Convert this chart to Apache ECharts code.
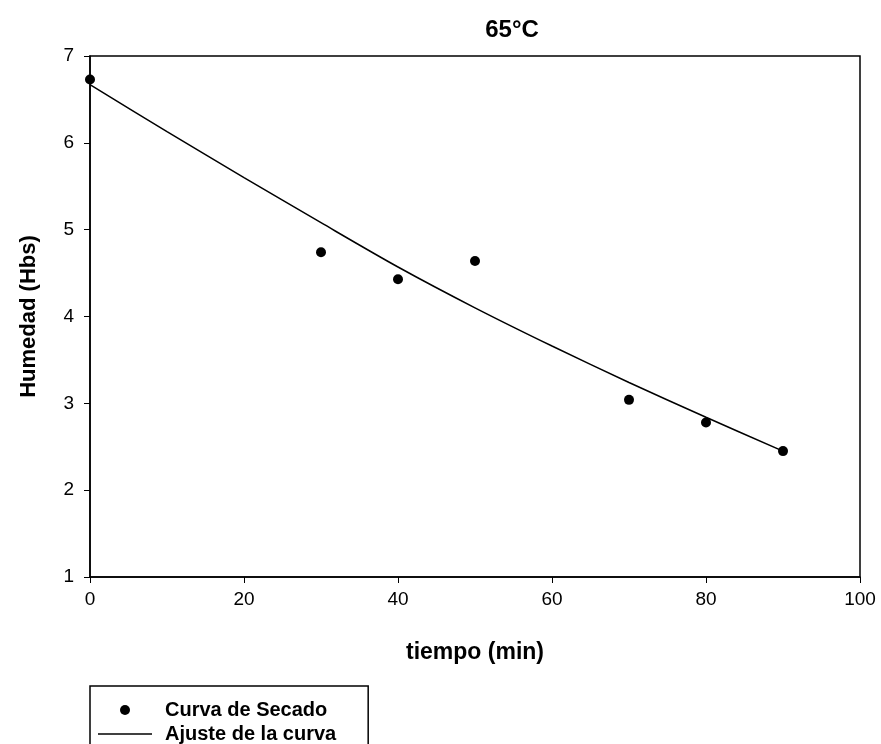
<!DOCTYPE html>
<html>
<head>
<meta charset="utf-8">
<script src="https://cdn.jsdelivr.net/npm/echarts@6/dist/echarts.min.js"></script>
<style>
html,body{margin:0;padding:0;background:#fff;}
#chart{width:881px;height:744px;}
</style>
</head>
<body>
<div id="chart"></div>
<script>
// datos de secado a 65°C
var tiempo = [0, 30, 40, 50, 70, 80, 90];
var humedad = [6.73, 4.74, 4.43, 4.64, 3.04, 2.78, 2.45];
// curva ajustada
var tiempoAjuste = [0, 10, 20, 30, 40, 50, 60, 70, 80, 90];
var humedadAjuste = [6.67, 6.13, 5.60, 5.08, 4.57, 4.10, 3.66, 3.24, 2.84, 2.45];

var puntos = tiempo.map(function (t, i) { return [t, humedad[i]]; });
var ajuste = tiempoAjuste.map(function (t, i) { return [t, humedadAjuste[i]]; });

var chart = echarts.init(document.getElementById('chart'));
var fuente = '"Liberation Sans", Arial, sans-serif';
var option = {
    backgroundColor: '#fff',
    animation: false,
    title: {
        text: '65°C',
        left: 507,
        textAlign: 'center',
        top: 13,
        textStyle: {fontFamily: fuente, fontSize: 24, fontWeight: 'bold', color: '#000'}
    },
    grid: {
        left: 90, right: 21, top: 56, bottom: 167,
        show: true, borderColor: '#000', borderWidth: 1.5,
        containLabel: false
    },
    xAxis: {
        type: 'value', min: 0, max: 100, interval: 20,
        name: 'tiempo (min)', nameLocation: 'middle', nameGap: 64,
        nameTextStyle: {fontFamily: fuente, fontSize: 23, fontWeight: 'bold', color: '#000'},
        axisLine: {show: true, lineStyle: {color: '#000', width: 1.5}},
        axisTick: {show: true, length: 6, lineStyle: {color: '#000'}},
        axisLabel: {fontFamily: fuente, fontSize: 19, color: '#000', margin: 13},
        splitLine: {show: false}
    },
    yAxis: {
        type: 'value', min: 1, max: 7, interval: 1,
        name: 'Humedad (Hbs)', nameLocation: 'middle', nameGap: 50,
        nameTextStyle: {fontFamily: fuente, fontSize: 22, fontWeight: 'bold', color: '#000'},
        axisLine: {show: true, lineStyle: {color: '#000', width: 1.5}},
        axisTick: {show: true, length: 6, lineStyle: {color: '#000'}},
        axisLabel: {fontFamily: fuente, fontSize: 19, color: '#000', margin: 16},
        splitLine: {show: false}
    },
    legend: {
        left: 90, top: 686, orient: 'vertical',
        height: 200,
        padding: [14, 32, 40, 8],
        borderColor: '#000', borderWidth: 1.5,
        itemWidth: 54, itemHeight: 10, itemGap: 4,
        symbolKeepAspect: true,
        textStyle: {fontFamily: fuente, fontSize: 20, fontWeight: 'bold', color: '#000',
            lineHeight: 20, padding: [0, 0, 0, 8]},
        data: [
            {name: 'Curva de Secado', icon: 'circle'},
            {name: 'Ajuste de la curva', icon: 'path://M0,0 L54,0 L54,1.5 L0,1.5 Z'}
        ]
    },
    series: [
        {
            name: 'Curva de Secado',
            type: 'scatter',
            symbol: 'circle',
            symbolSize: 10,
            itemStyle: {color: '#000', opacity: 1},
            data: puntos,
            z: 3
        },
        {
            name: 'Ajuste de la curva',
            type: 'line',
            smooth: 0.3,
            symbol: 'none',
            lineStyle: {color: '#000', width: 1.5},
            itemStyle: {color: '#000'},
            data: ajuste,
            z: 2
        }
    ]
};
chart.setOption(option);
</script>
</body>
</html>
